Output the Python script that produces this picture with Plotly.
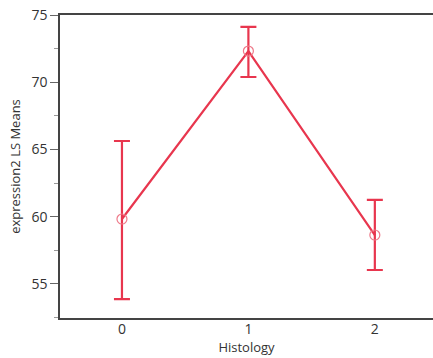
import plotly.graph_objects as go

categories = [0, 1, 2]
ls_means = [59.83, 72.32, 58.64]
upper = [65.63, 74.11, 61.25]
lower = [53.88, 70.39, 56.04]
tick_vals = [55, 60, 65, 70, 75]

err_plus = [u - m for u, m in zip(upper, ls_means)]
err_minus = [m - l for m, l in zip(ls_means, lower)]

red = "#E8364E"

fig = go.Figure()
fig.add_trace(go.Scatter(
    x=categories, y=ls_means,
    mode="lines+markers",
    line=dict(color=red, width=2.2),
    marker=dict(symbol="circle-open", size=10, color="#EE7A8A", line=dict(width=1.2)),
    error_y=dict(type="data", symmetric=False, array=err_plus, arrayminus=err_minus,
                 color=red, thickness=2.2, width=8),
    showlegend=False,
))

font_family = "Open Sans, Noto Sans, sans-serif"
fig.update_layout(
    width=433, height=358,
    margin=dict(l=60, r=0, t=15, b=40),
    paper_bgcolor="white", plot_bgcolor="white",
    font=dict(family=font_family, color="#444"),
    xaxis=dict(
        range=[-0.49, 2.46], tickvals=categories, ticktext=[str(c) for c in categories],
        showline=True, linecolor="#444", linewidth=1.5, mirror=True,
        showgrid=False, zeroline=False, ticks="", automargin=False,
        ticklabelstandoff=-3,
        tickfont=dict(size=14, color="#333"),
        title=dict(text="Histology", font=dict(size=13, color="#333"), standoff=2),
    ),
    yaxis=dict(
        range=[52.47, 75], tickvals=tick_vals,
        showline=True, linecolor="#444", linewidth=1.5, mirror=False,
        showgrid=False, zeroline=False, automargin=False,
        ticks="outside", ticklen=8, tickcolor="#666", tickwidth=1,
        minor=dict(ticks="outside", ticklen=4, tickcolor="#999", dtick=2.5, showgrid=False),
        tickfont=dict(size=14, color="#333"),
        title=dict(text="expression2 LS Means", font=dict(size=13, color="#333"), standoff=8),
    ),
)

fig.write_html("out.html", config={"displayModeBar": False},
               post_script="document.body.style.margin='0';document.body.style.overflow='hidden';")
